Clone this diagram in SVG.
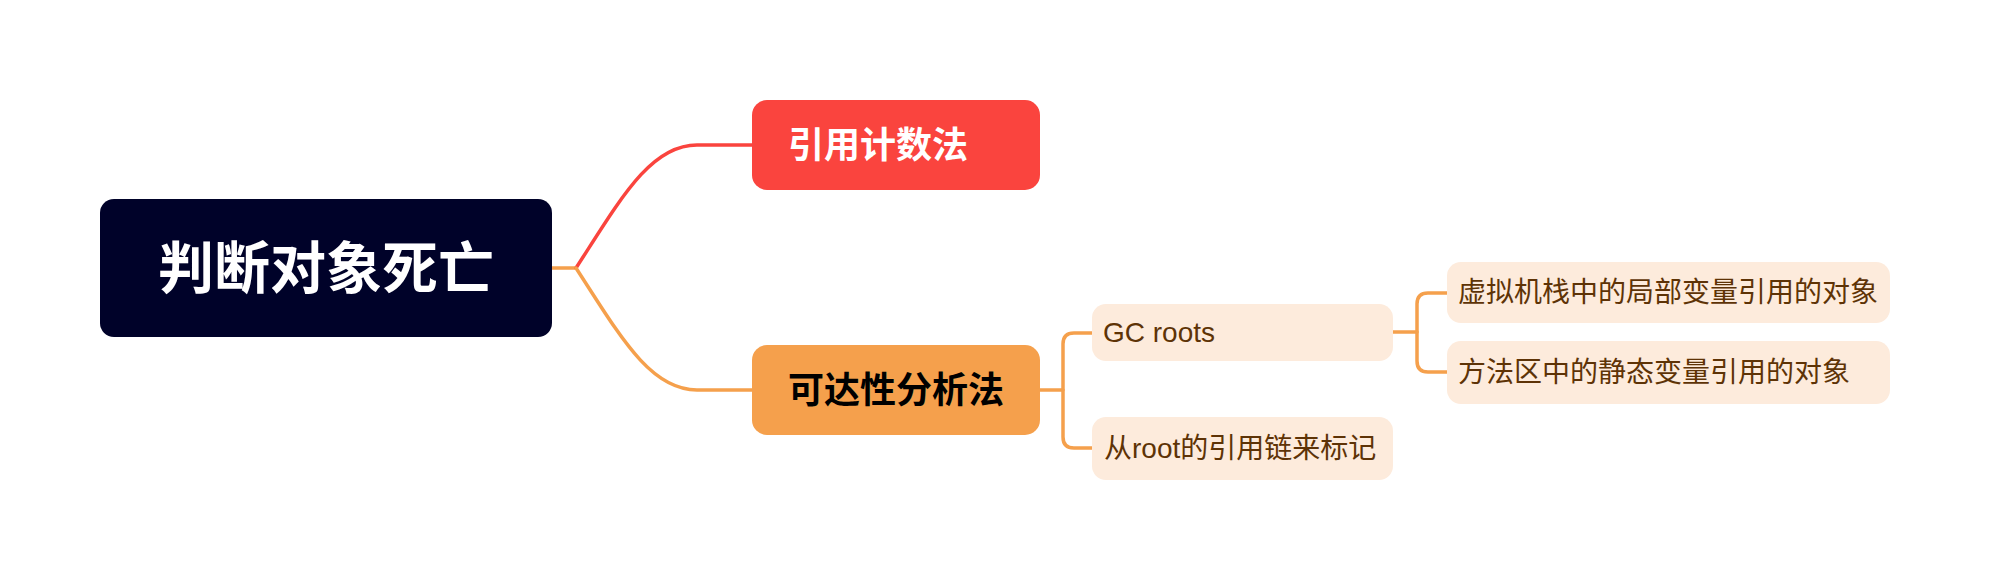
<svg xmlns="http://www.w3.org/2000/svg" width="1990" height="582" viewBox="0 0 1990 582">
<style>
text{font-family:"Liberation Sans","Noto Sans CJK SC",sans-serif;dominant-baseline:central}
.root{fill:#000229}
.rootT{fill:#fff;font-size:56px;font-weight:700;text-anchor:middle}
.red{fill:#FA443E}
.org{fill:#F5A04C}
.mainT{font-size:36px;font-weight:700}
.leaf{fill:#FDEBDC}
.leafT{fill:#5E3306;font-size:28px}
.c{fill:none;stroke-width:3.5;stroke-linecap:round;stroke-linejoin:round}
.cr{stroke:#FA443E}
.co{stroke:#F5A04C}
</style>
<rect width="1990" height="582" fill="#fff"/>
<g id="connectors">
<path class="c co" d="M552,268 L576,268"/>
<path class="c cr" d="M576,268 C620,200 650,145 697,145 L752,145"/>
<path class="c co" d="M576,268 C620,336 650,390 697,390 L752,390"/>
<path class="c co" d="M1040,390 L1063,390"/>
<path class="c co" d="M1092,333 L1074,333 Q1063,333 1063,344 L1063,437 Q1063,448 1074,448 L1092,448"/>
<path class="c co" d="M1393,332 L1417,332"/>
<path class="c co" d="M1447,293 L1428,293 Q1417,293 1417,304 L1417,361 Q1417,372 1428,372 L1447,372"/>
</g>
<g id="root">
<rect class="root" x="100" y="199" width="452" height="138" rx="14"/>
<text class="rootT" x="326" y="268">判断对象死亡</text>
</g>
<g id="n1">
<rect class="red" x="752" y="100" width="288" height="90" rx="15"/>
<text class="mainT" x="788" y="145" fill="#fff">引用计数法</text>
</g>
<g id="n2">
<rect class="org" x="752" y="345" width="288" height="90" rx="15"/>
<text class="mainT" x="788" y="390" fill="#000">可达性分析法</text>
</g>
<g id="n3">
<rect class="leaf" x="1092" y="304" width="301" height="57" rx="14"/>
<text class="leafT" x="1103" y="332">GC roots</text>
</g>
<g id="n4">
<rect class="leaf" x="1092" y="417" width="301" height="63" rx="14"/>
<text class="leafT" x="1104" y="448">从root的引用链来标记</text>
</g>
<g id="n5">
<rect class="leaf" x="1447" y="262" width="443" height="61" rx="14"/>
<text class="leafT" x="1458" y="292">虚拟机栈中的局部变量引用的对象</text>
</g>
<g id="n6">
<rect class="leaf" x="1447" y="341" width="443" height="63" rx="14"/>
<text class="leafT" x="1458" y="372">方法区中的静态变量引用的对象</text>
</g>
</svg>
